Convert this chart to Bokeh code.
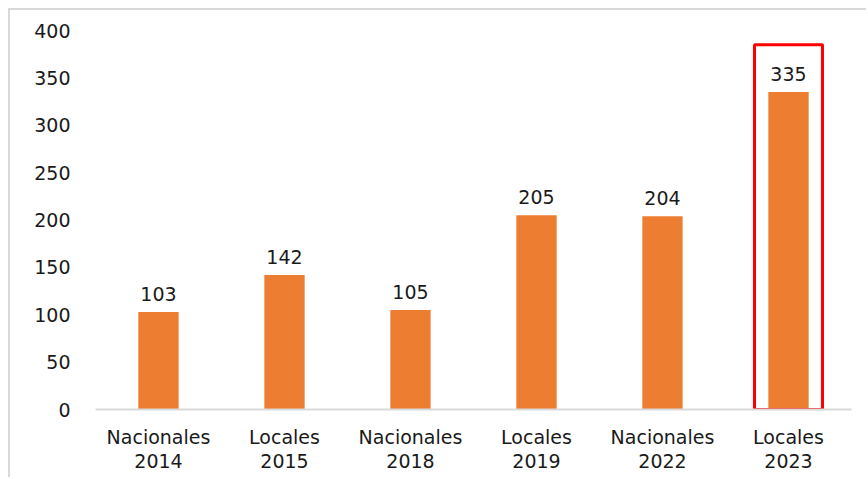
from bokeh.plotting import figure
from bokeh.models import Range1d, FactorRange, ColumnDataSource
from bokeh.embed import file_html
from bokeh.resources import INLINE
from bokeh.core.properties import value

types = ["Nacionales", "Locales", "Nacionales", "Locales", "Nacionales", "Locales"]
years = ["2014", "2015", "2018", "2019", "2022", "2023"]
counts = [103, 142, 105, 205, 204, 335]
y_ticks = [0, 50, 100, 150, 200, 250, 300, 350, 400]
highlight_index = 5

cats = [f"{t}\n{y}" for t, y in zip(types, years)]
FONT = "DejaVu Sans"
FS = "19px"

p = figure(width=858, height=469, x_range=FactorRange(*cats, range_padding=0),
           y_range=Range1d(0, 400), output_backend="svg", toolbar_location=None,
           min_border_left=85, min_border_right=17, min_border_top=20, min_border_bottom=70)
p.margin = (8, 0, 0, 8)
p.styles = {"border-left": "2px solid #d9d9d9", "border-top": "2px solid #d9d9d9"}
p.outline_line_color = None
p.grid.visible = False
p.background_fill_color = "white"
p.border_fill_color = "white"

src = ColumnDataSource(dict(x=cats, top=counts, label=[str(c) for c in counts]))
p.vbar(x="x", top="top", width=0.32, bottom=0, source=src, fill_color="#ED7D31", line_color=None)
p.text(x="x", y="top", text="label", source=src, text_align="center", text_baseline="bottom",
       y_offset=-11, text_font=value(FONT), text_font_size=FS, text_color="#1a1a1a")

hx = cats[highlight_index]
htop = counts[highlight_index] + 50
p.rect(x=[hx], y=[htop / 2], width=0.54, height=[htop], fill_color=None,
       line_color="#FF0000", line_width=3)

p.yaxis.ticker = y_ticks
p.yaxis.axis_line_color = None
p.yaxis.major_tick_line_color = None
p.yaxis.minor_tick_line_color = None
p.yaxis.major_label_standoff = 19
p.yaxis.major_label_text_font = FONT
p.yaxis.major_label_text_font_size = FS
p.yaxis.major_label_text_color = "#1a1a1a"

p.xaxis.axis_line_color = "#d9d9d9"
p.xaxis.axis_line_width = 2
p.xaxis.major_tick_line_color = None
p.xaxis.minor_tick_line_color = None
p.xaxis.major_label_standoff = 10
p.xaxis.major_label_text_font = FONT
p.xaxis.major_label_text_font_size = FS
p.xaxis.major_label_text_color = "#1a1a1a"
p.xaxis.major_label_text_line_height = 1.1

open("out.html", "w").write(file_html(p, INLINE))
